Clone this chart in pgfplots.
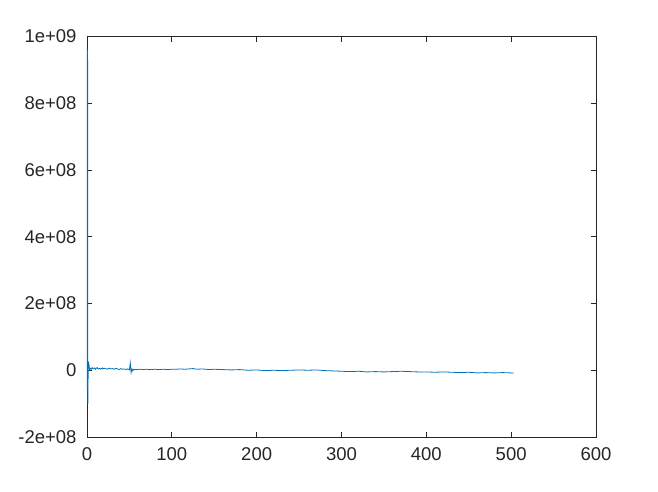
\documentclass[border=0pt]{standalone}
\usepackage{pgfplots}
\pgfplotsset{compat=1.18}
\usepackage{fontspec}
\setmainfont{Liberation Sans}
\definecolor{oct}{RGB}{0,114,189}
\definecolor{axc}{RGB}{38,38,38}
\begin{document}
\begin{tikzpicture}
\useasboundingbox (-87pt,-54pt) rectangle (571pt,437pt);
\begin{axis}[
  at={(0pt,0pt)}, anchor=south west,
  scale only axis, width=509pt, height=400.5pt,
  xmin=0, xmax=600, ymin=-2e8, ymax=1e9,
  xtick={0,100,...,600},
  ytick={-2e8,0,2e8,4e8,6e8,8e8,1e9},
  yticklabels={-2e+08,0,2e+08,4e+08,6e+08,8e+08,1e+09},
  scaled y ticks=false,
  tick align=inside, tick pos=both,
  major tick length=5pt,
  axis line style={axc, line width=0.8pt},
  every tick/.style={axc, line width=0.8pt},
  tick label style={font=\fontsize{18.5}{20}\selectfont, text=axc},
  /pgf/number format/assume math mode=true,
  xticklabel style={yshift=-7pt},
  yticklabel style={xshift=-7pt},
]
\addplot[oct, line width=0.8pt] table[y expr=\thisrowno{1}*1e6] {
0 970
0.4 -60
0.7 960
1 -100
1.5 25
2 24
3 2
4 6
5 3
6 8
7 4
8 5
9 7
10 3
11 6
12 8
13 4
14 5
15 6
16 3
17 5
18 7
19 4
20 6
22 5
24 3
26 6
28 4
30 5
32 3
34 6
36 4
38 2
40 5
42 3
44 4
46 2
48 4
50 1
51 22
52 -7
53 4
54 -2
55 3
58 2
62 3
66 2
70 3
75 2
80 3
85 2
90 3
95 2
100 3
105 3
110 4
115 3
120 4
125 5
130 3
135 4
140 3
145 2
150 3
160 2
170 1
180 2
190 0
200 1
210 -1
220 0
230 -1
240 0
250 1
260 0
270 1
280 -1
290 -2
300 -3
310 -4
320 -3
330 -5
340 -4
350 -5
360 -4
370 -3
380 -4
390 -5
400 -5
410 -6
420 -5
430 -6
440 -7
450 -6
460 -8
470 -7
480 -8
490 -7
500 -8
503 -8
};
\end{axis}
\end{tikzpicture}
\end{document}
